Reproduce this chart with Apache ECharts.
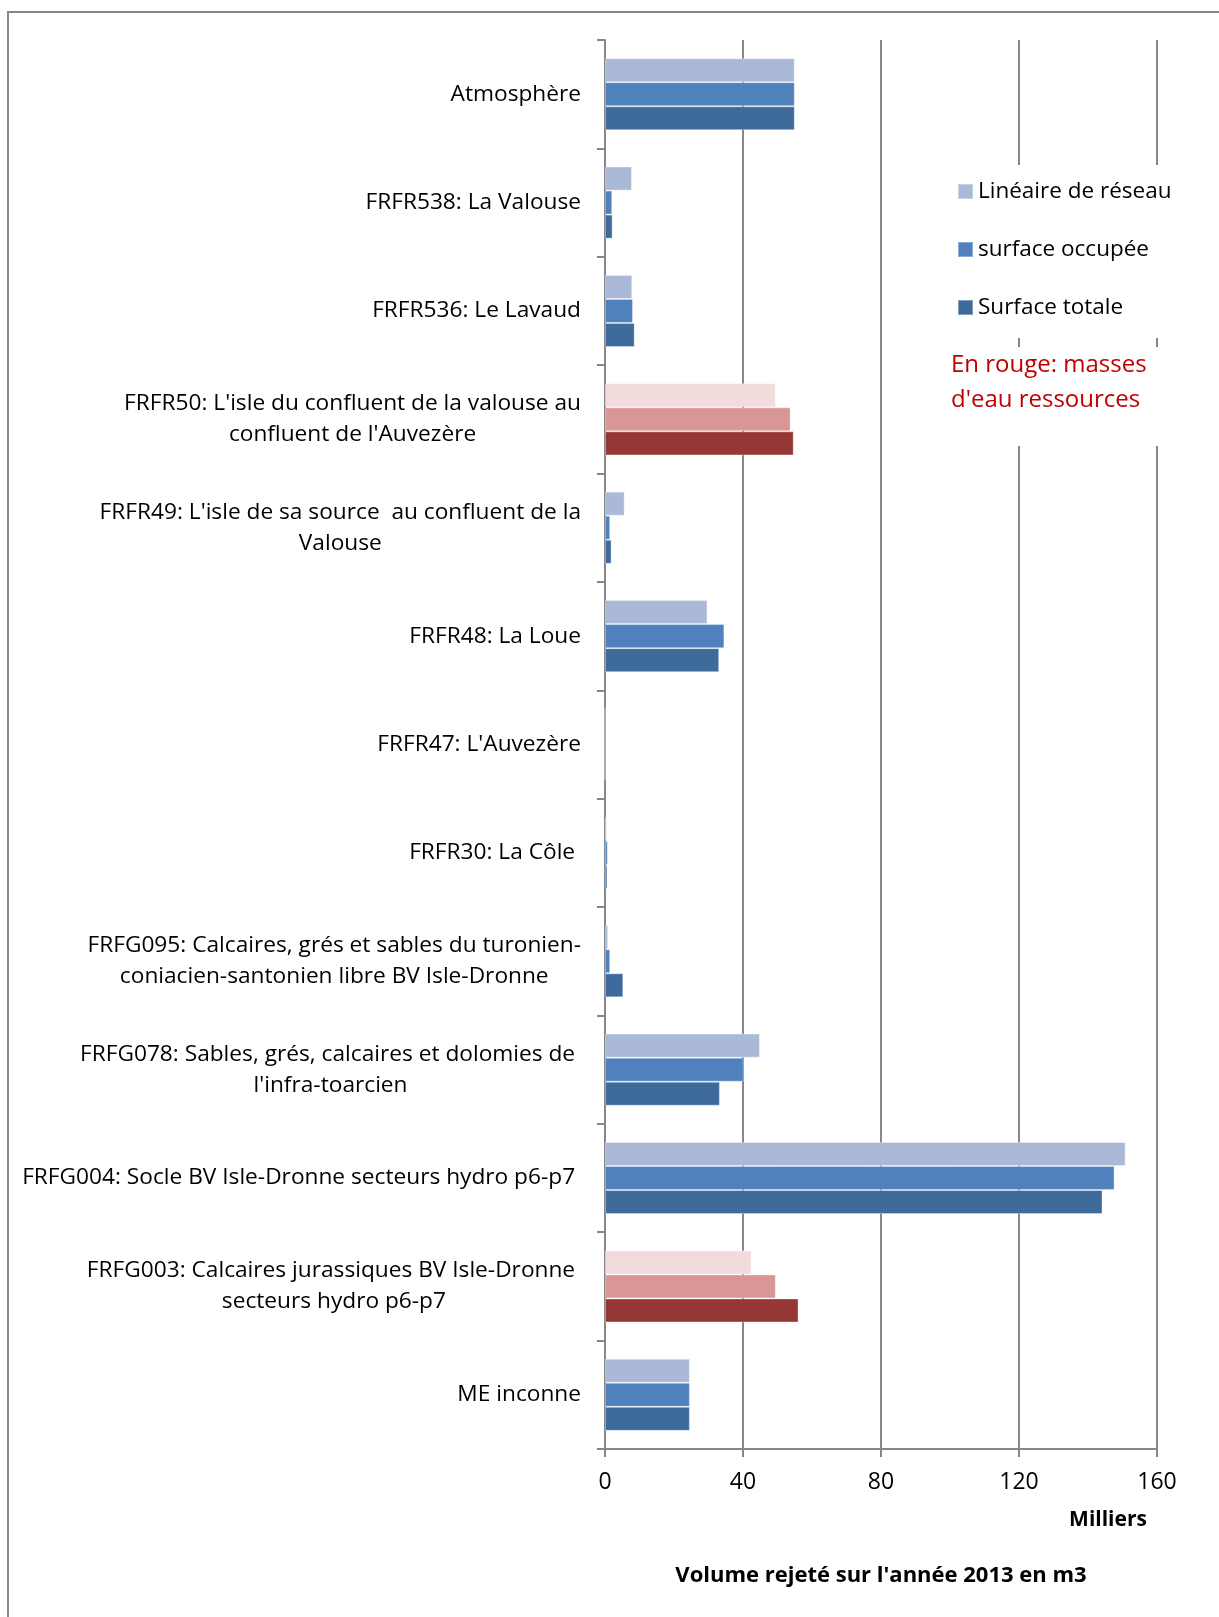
<!DOCTYPE html>
<html>
<head>
<meta charset="utf-8">
<script src="https://cdn.jsdelivr.net/npm/echarts@6/dist/echarts.min.js"></script>
<style>
html,body{margin:0;padding:0;background:#fff;}
#chart{width:1219px;height:1617px;}
</style>
</head>
<body>
<div id="chart"></div>
<script>
// ---- data ----
const categories = [
  "Atmosphère",
  "FRFR538: La Valouse",
  "FRFR536: Le Lavaud",
  "FRFR50: L'isle du confluent de la valouse au\nconfluent de l'Auvezère",
  "FRFR49: L'isle de sa source  au confluent de la\nValouse",
  "FRFR48: La Loue",
  "FRFR47: L'Auvezère",
  "FRFR30: La Côle ",
  "FRFG095: Calcaires, grés et sables du turonien-\nconiacien-santonien libre BV Isle-Dronne",
  "FRFG078: Sables, grés, calcaires et dolomies de \nl'infra-toarcien",
  "FRFG004: Socle BV Isle-Dronne secteurs hydro p6-p7 ",
  "FRFG003: Calcaires jurassiques BV Isle-Dronne \nsecteurs hydro p6-p7",
  "ME inconne"
];
// values in thousands of m3
const lineaireReseau  = [55.0, 7.8, 7.9, 49.5, 5.7, 29.7, 0, 0.5, 0.9, 44.9, 150.9, 42.5, 24.6];
const surfaceOccupee  = [55.0, 2.1, 8.1, 53.8, 1.5, 34.6, 0, 0.8, 1.5, 40.2, 147.7, 49.5, 24.6];
const surfaceTotale   = [55.0, 2.2, 8.6, 54.7, 1.9, 33.1, 0, 0.7, 5.3, 33.3, 144.2, 56.1, 24.6];
const seriesNames = ["Linéaire de réseau", "surface occupée", "Surface totale"];
// water bodies used as resources (drawn in red)
const resourceBodies = [
  "FRFR50: L'isle du confluent de la valouse au\nconfluent de l'Auvezère",
  "FRFG003: Calcaires jurassiques BV Isle-Dronne \nsecteurs hydro p6-p7"
];
const xTicks = [0, 40, 80, 120, 160];

// ---- styles ----
const blue = ["#AAB9D7", "#4F81BD", "#3F6A9C"];
const red  = ["#F2DCDB", "#DA9694", "#953735"];
const FONT = "Open Sans";
const GRAY = "#878787";

function buildData(values, k) {
  return values.map((v, i) => ({
    value: v,
    itemStyle: { color: resourceBodies.includes(categories[i]) ? red[k] : blue[k] }
  }));
}
const allValues = [lineaireReseau, surfaceOccupee, surfaceTotale];

const chart = echarts.init(document.getElementById('chart'), null, {renderer: 'canvas'});
chart.setOption({
  animation: false,
  backgroundColor: '#fff',
  textStyle: { fontFamily: FONT },
  grid: { left: 605, top: 40, width: 552, height: 1409 },
  title: [{
    text: "En rouge: masses\nd'eau ressources",
    left: 940, top: 347,
    padding: [1, 80, 28, 11],
    backgroundColor: '#fff',
    textStyle: { color: '#C00000', fontSize: 24, fontWeight: 'normal', lineHeight: 35, fontFamily: FONT }
  }],
  legend: {
    orient: 'vertical',
    left: 943, top: 165,
    padding: [14, 80, 18, 14],
    backgroundColor: '#fff',
    itemWidth: 15, itemHeight: 15, itemGap: 33,
    icon: 'rect',
    data: seriesNames,
    textStyle: { fontSize: 22.5, color: '#000', lineHeight: 25, fontFamily: FONT, padding: [0,0,0,0] }
  },
  xAxis: {
    type: 'value',
    min: xTicks[0], max: xTicks[xTicks.length - 1], interval: 40,
    name: "Volume rejeté sur l'année 2013 en m3",
    nameLocation: 'middle', nameGap: 116,
    nameTextStyle: { fontSize: 22, fontWeight: 'bold', color: '#000', fontFamily: FONT },
    axisLine: { show: true, lineStyle: { color: GRAY, width: 2 } },
    axisTick: { show: true, length: 8, lineStyle: { color: GRAY, width: 2 } },
    axisLabel: { fontSize: 23, color: '#000', margin: 22, fontFamily: FONT },
    splitLine: { show: true, lineStyle: { color: GRAY, width: 2 } }
  },
  yAxis: {
    type: 'category',
    inverse: true,
    data: categories,
    axisLine: { show: true, lineStyle: { color: GRAY, width: 2 } },
    axisTick: { show: true, length: 8, inside: false, lineStyle: { color: GRAY, width: 2 } },
    axisLabel: {
      margin: 24,
      formatter: v => '{c|' + v + '}',
      rich: { c: { align: 'center', fontSize: 22.7, lineHeight: 31, color: '#000', fontFamily: FONT } }
    },
    splitLine: { show: false }
  },
  graphic: [
    { type: 'polyline', shape: { points: [[8, 1700], [8, 12], [1300, 12]] },
      style: { stroke: GRAY, lineWidth: 2, fill: null }, z: 0 },
    { type: 'text', x: 1108, y: 1520,
      style: { text: 'Milliers', font: 'bold 21px "' + FONT + '"', fill: '#000', textAlign: 'center', textVerticalAlign: 'middle' } }
  ],
  series: allValues.map((vals, k) => ({
    name: seriesNames[k],
    type: 'bar',
    data: buildData(vals, k),
    barGap: '0%',
    barCategoryGap: '33.5%',
    color: blue[k],
    itemStyle: { borderColor: 'rgba(255,255,255,0.35)', borderWidth: 1 }
  }))
});
</script>
</body>
</html>
